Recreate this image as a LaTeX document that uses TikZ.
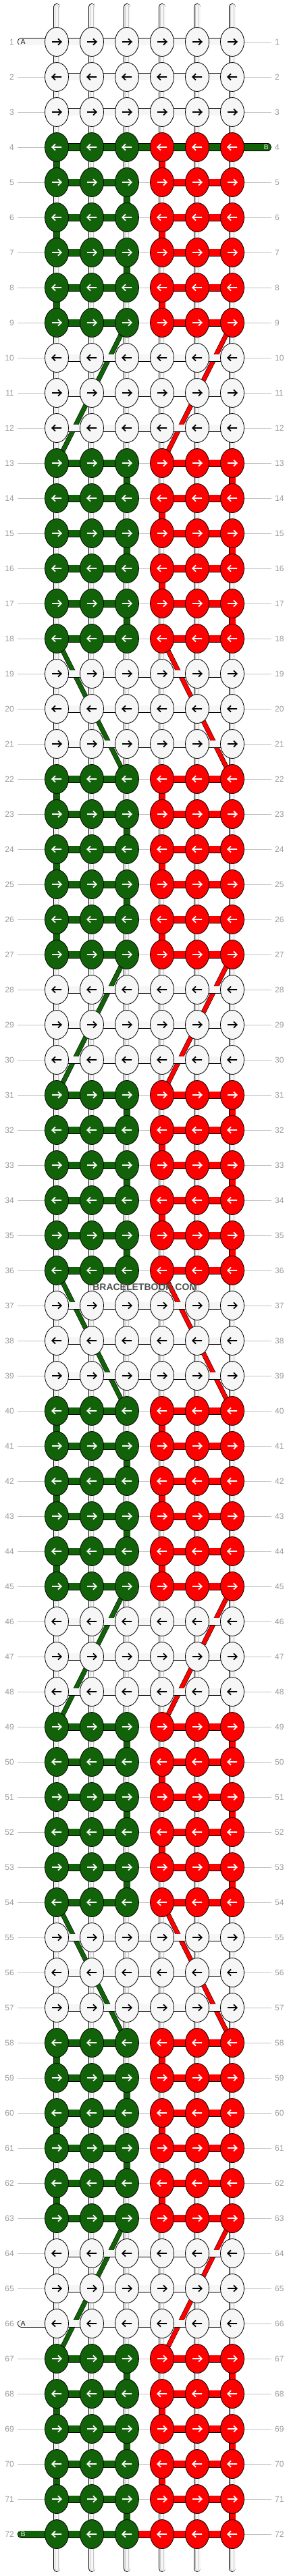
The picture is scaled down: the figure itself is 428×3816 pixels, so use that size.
\documentclass[tikz,border=0pt]{standalone}
\usepackage{fontspec}
\setmainfont{Liberation Sans}
\usetikzlibrary{shapes.geometric}
\definecolor{kgreen}{HTML}{12620A}
\definecolor{kred}{HTML}{FF0000}
\definecolor{kwhite}{HTML}{F6F6F6}
\definecolor{lblgray}{HTML}{9A9A9A}
\definecolor{linegray}{HTML}{C2C2C2}
\definecolor{tubegray}{HTML}{C8C8C8}
\definecolor{wmgray}{HTML}{505050}
\pgfdeclarelayer{grid}
\pgfdeclarelayer{diag}
\pgfdeclarelayer{vconn}
\pgfdeclarelayer{hconn}
\pgfsetlayers{grid,diag,vconn,hconn,main}
\tikzset{
 knot/.style={ellipse, draw=black, line width=0.8pt, minimum width=35pt, minimum height=43pt, inner sep=0pt},
 arr/.style={line width=1.7pt},
 tube/.style={draw=black, double=kwhite, double distance=9pt, line width=0.8pt,
   postaction={draw=tubegray, line width=0.6pt, double=kwhite, double distance=4.6pt}},
 hw/.style={draw=black, double=kwhite, double distance=9.4pt, line width=0.8pt},
 hg/.style={draw=black, double=kgreen, double distance=9.4pt, line width=0.8pt},
 hr/.style={draw=black, double=kred, double distance=9.4pt, line width=0.8pt},
 gv/.style={draw=black, double=kgreen, double distance=9pt, line width=0.8pt},
 rv/.style={draw=black, double=kred, double distance=9pt, line width=0.8pt},
 dg/.style={draw=black, double=kgreen, double distance=6pt, line width=0.5pt},
 dr/.style={draw=black, double=kred, double distance=6pt, line width=0.5pt},
 rowline/.style={draw=linegray, line width=0.9pt},
 lbl/.style={text=lblgray, font=\fontsize{12}{14}\selectfont, inner sep=0pt},
 pilltxt/.style={font=\fontsize{10}{12}\selectfont, inner sep=0pt},
 wmark/.style={font=\bfseries\fontsize{14}{16}\selectfont, text=wmgray, inner sep=0pt}
}
\begin{document}
\begin{tikzpicture}[x=1pt,y=-1pt]
\useasboundingbox (0,0) rectangle (428,3816);
% knots
\foreach \r in {1,...,72}{
 \pgfmathtruncatemacro\rmod{mod(\r-1,9)}
 \pgfmathtruncatemacro\rdir{mod(\r,2)}
 \foreach \c in {1,...,6}{
  \ifnum\rmod<3 \def\kcol{kwhite}\def\acol{black}\else\ifnum\c<4 \def\kcol{kgreen}\else\def\kcol{kred}\fi\def\acol{white}\fi
  \node[knot, fill=\kcol] (k-\r-\c) at ({84+52*(\c-1)},{62+52*(\r-1)}) {};
  \ifnum\rdir=1
   \draw[arr, draw=\acol, shift={(k-\r-\c.center)}] (-7,0) -- (6.3,0) (2,-4.6) -- (6.8,0) -- (2,4.6);
  \else
   \draw[arr, draw=\acol, shift={(k-\r-\c.center)}] (7,0) -- (-6.3,0) (-2,-4.6) -- (-6.8,0) -- (-2,4.6);
  \fi
 }
}
% row labels
\foreach \r in {1,...,72}{
 \pgfmathsetmacro\yy{62+52*(\r-1)}
 \node[lbl, anchor=east] (ll-\r) at (21,\yy) {\r};
 \node[lbl, anchor=west] (rl-\r) at (407,\yy) {\r};
 \coordinate (gl-\r) at (26,\yy);
 \coordinate (gr-\r) at (402,\yy);
}
\begin{pgfonlayer}{grid}
\foreach \r in {1,...,72}{\draw[rowline] (gl-\r) -- (gr-\r);}
\end{pgfonlayer}
% diagonals
\begin{pgfonlayer}{diag}
\foreach \t in {9,27,45,63}{\pgfmathtruncatemacro\u{\t+4}
  \draw[dg] (k-\t-3.center) -- (k-\u-1.center);
  \draw[dr] (k-\t-6.center) -- (k-\u-4.center);}
\foreach \t in {18,36,54}{\pgfmathtruncatemacro\u{\t+4}
  \draw[dg] (k-\t-1.center) -- (k-\u-3.center);
  \draw[dr] (k-\t-4.center) -- (k-\u-6.center);}
\end{pgfonlayer}
% vertical strings
\begin{pgfonlayer}{vconn}
\foreach \c in {1,...,6}{\pgfmathsetmacro\xx{84+52*(\c-1)}
  \coordinate (ts-\c) at (\xx,10.3);
  \coordinate (bs-\c) at (\xx,3804.7);
  \draw[tube, line cap=round] (ts-\c) -- (k-1-\c.center);
  \draw[tube, line cap=round] (bs-\c) -- (k-72-\c.center);
  \foreach \r in {1,...,71}{\pgfmathtruncatemacro\rn{\r+1}
    \draw[tube] (k-\r-\c.center) -- (k-\rn-\c.center);}
}
% type A blocks
\foreach \s in {4,22,40,58}{
  \foreach \i in {0,2,4}{\pgfmathtruncatemacro\a{\s+\i}\pgfmathtruncatemacro\b{\s+\i+1}
    \draw[gv] (k-\a-1.center) -- (k-\b-1.center);
    \draw[rv] (k-\a-4.center) -- (k-\b-4.center);}
  \foreach \i in {1,3}{\pgfmathtruncatemacro\a{\s+\i}\pgfmathtruncatemacro\b{\s+\i+1}
    \draw[gv] (k-\a-3.center) -- (k-\b-3.center);}
}
% type B blocks
\foreach \s in {13,31,49}{
  \foreach \i in {0,2,4}{\pgfmathtruncatemacro\a{\s+\i}\pgfmathtruncatemacro\b{\s+\i+1}
    \draw[gv] (k-\a-3.center) -- (k-\b-3.center);
    \draw[rv] (k-\a-6.center) -- (k-\b-6.center);}
  \foreach \i in {1,3}{\pgfmathtruncatemacro\a{\s+\i}\pgfmathtruncatemacro\b{\s+\i+1}
    \draw[rv] (k-\a-4.center) -- (k-\b-4.center);}
}
% last block
\foreach \i in {0,2,4}{\pgfmathtruncatemacro\a{67+\i}\pgfmathtruncatemacro\b{67+\i+1}
  \draw[gv] (k-\a-3.center) -- (k-\b-3.center);
  \draw[rv] (k-\a-6.center) -- (k-\b-6.center);}
\foreach \i in {1,3}{\pgfmathtruncatemacro\a{67+\i}\pgfmathtruncatemacro\b{67+\i+1}
  \draw[gv] (k-\a-1.center) -- (k-\b-1.center);
  \draw[rv] (k-\a-4.center) -- (k-\b-4.center);}
\end{pgfonlayer}
% horizontal working strings
\begin{pgfonlayer}{hconn}
\foreach \r in {1,...,72}{
 \pgfmathtruncatemacro\rmod{mod(\r-1,9)}
 \ifnum\rmod<3
  \foreach \c in {1,...,5}{\pgfmathtruncatemacro\d{\c+1}
   \draw[hw] (k-\r-\c.center) -- (k-\r-\d.center);}
 \else
  \draw[hg] (k-\r-1.center) -- (k-\r-2.center) -- (k-\r-3.center);
  \draw[hr] (k-\r-4.center) -- (k-\r-5.center) -- (k-\r-6.center);
 \fi
}
\draw[hg] (k-4-3.center) -- (k-4-4.center) -- (k-4-5.center) -- (k-4-6.center);
\draw[hr] (k-72-3.center) -- (k-72-4.center);
\coordinate (pa1) at (31.3,62);
\coordinate (pa66) at (31.3,3442);
\coordinate (pb4) at (396.5,218);
\coordinate (pb72) at (31.3,3754);
\draw[hw, line cap=round] (pa1) -- (k-1-1.center);
\draw[hw, line cap=round] (pa66) -- (k-66-1.center);
\draw[hg, line cap=round] (k-4-6.center) -- (pb4);
\draw[hg, line cap=round] (pb72) -- (k-72-1.center);
\end{pgfonlayer}
% string labels
\node[pilltxt] (la1) at (34.3,62) {A};
\node[pilltxt] (la66) at (34.3,3442) {A};
\node[pilltxt, text=white] (lb4) at (394.3,218) {B};
\node[pilltxt, text=white] (lb72) at (34.3,3754) {B};
% watermark
\node[wmark] (wm) at (214.7,1907) {BRACELETBOOK.COM};
\end{tikzpicture}
\end{document}
